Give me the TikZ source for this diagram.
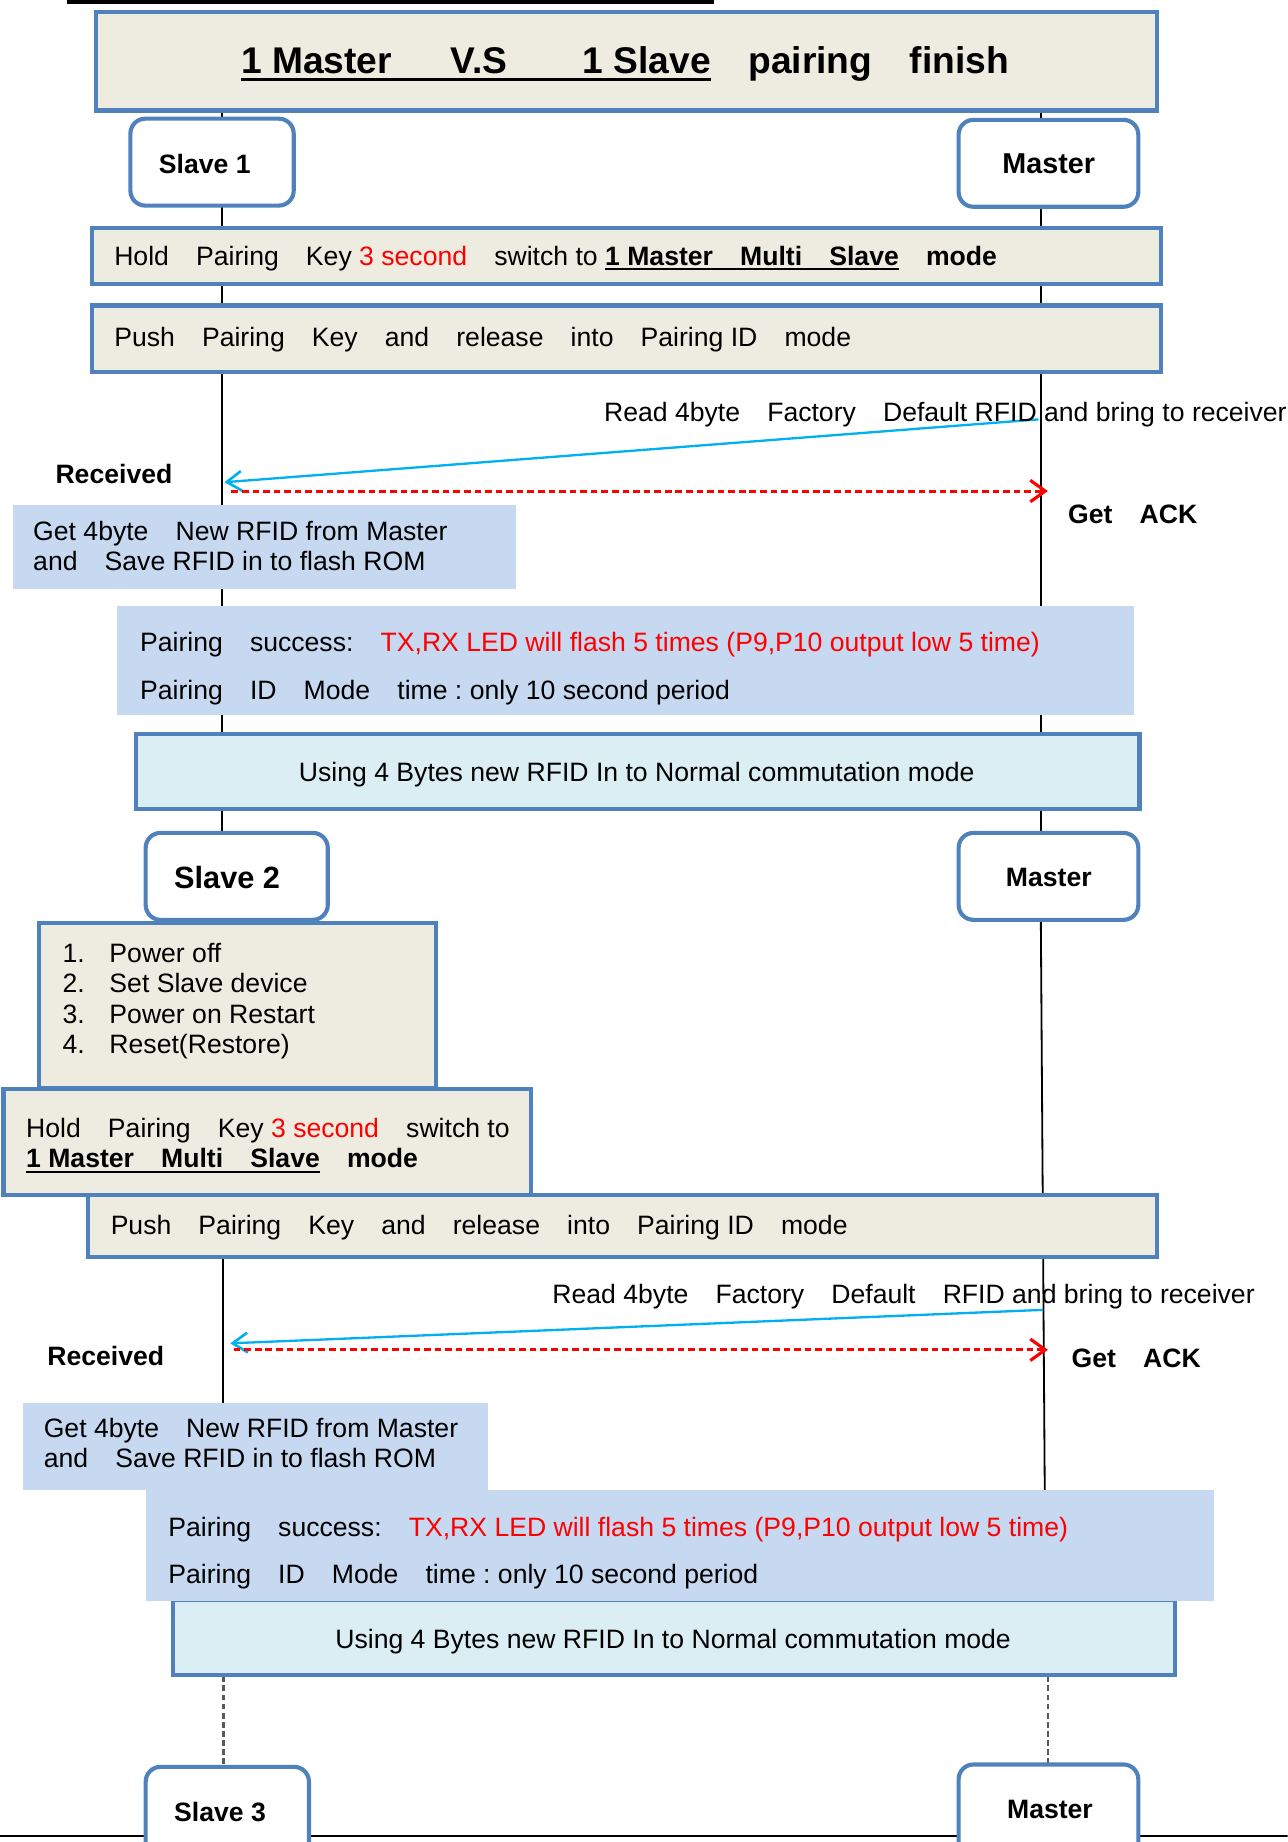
\documentclass[tikz,border=0pt]{standalone}
\usepackage{fontspec}
\setmainfont{Liberation Sans}
\usetikzlibrary{arrows.meta,fit}
\definecolor{beige}{HTML}{EEECE1}
\definecolor{bdr}{HTML}{4F81BD}
\definecolor{lblue}{HTML}{C6D9F1}
\definecolor{aqua}{HTML}{DBEEF4}
\definecolor{cyanarr}{HTML}{00B0F0}
\newcommand\gp{\hspace{1.02em}}
\newsavebox\ulbox
\newcommand\ulx[3]{\sbox\ulbox{#3}\rlap{\rule[-#1]{\wd\ulbox}{#2}}\usebox\ulbox}
\frenchspacing
\tikzset{
  box/.style={draw=bdr, line width=2.5pt, fill=beige, inner sep=0pt},
  rbox/.style={draw=bdr, line width=2.5pt, fill=white, rounded corners=9pt, inner sep=0pt},
  lbbox/.style={fill=lblue, inner sep=0pt},
  aqbox/.style={draw=bdr, line width=2.5pt, fill=aqua, inner sep=0pt},
  txt/.style={inner sep=0pt, anchor=base west, font=\fontsize{16.1}{19}\selectfont},
  btxt/.style={inner sep=0pt, anchor=base west, font=\fontsize{16.1}{19}\selectfont\bfseries},
  ctxt/.style={inner sep=0pt, anchor=base, font=\fontsize{16.1}{19}\selectfont},
  life/.style={line width=1.1pt, black},
  dlife/.style={line width=1.6pt, black!65, dash pattern=on 3.5pt off 2pt},
  rxarr/.style={cyanarr, line width=1.4pt, -{Straight Barb[length=9pt,width=12pt,line width=1.6pt]}},
  ackarr/.style={red, line width=1.8pt, dash pattern=on 4pt off 2.4pt, -{Straight Barb[length=9pt,width=13pt,line width=1.9pt]}},
}
\begin{document}
\frenchspacing
\begin{tikzpicture}[x=0.025cm, y=-0.025cm]
\clip (0,0) rectangle (1096,1568);
% decorative rules
\fill (57,0) rectangle (608,3.4);
\coordinate (bl) at (0,1563);
\coordinate (br) at (1096,1563);
\draw[line width=1.3pt] (bl) -- (br);
% lifelines
\coordinate (sA) at (189,94);
\coordinate (sB) at (189,709);
\coordinate (sC) at (190,1070);
\coordinate (sD) at (190,1194);
\coordinate (sE) at (190,1427);
\coordinate (sF) at (190,1504);
\coordinate (mA) at (886,94);
\coordinate (mB) at (886,709);
\coordinate (mC) at (886,783);
\coordinate (mD) at (890,1364);
\coordinate (mE) at (892,1427);
\coordinate (mF) at (892,1502);
\draw[life] (sA) -- (sB);
\draw[life] (sC) -- (sD);
\draw[life] (mA) -- (mB);
\draw[life] (mC) -- (mD);
\draw[dlife] (sE) -- (sF);
\draw[dlife] (mE) -- (mF);
% messages
\coordinate (b1s) at (884,357);
\coordinate (b1e) at (191,410.5);
\coordinate (r1s) at (197,418);
\coordinate (r1e) at (892,418);
\draw[rxarr] (b1s) -- (b1e);
\draw[ackarr] (r1s) -- (r1e);
\coordinate (b2s) at (888,1115);
\coordinate (b2e) at (196,1143.5);
\coordinate (r2s) at (199,1149);
\coordinate (r2e) at (892,1149);
\draw[rxarr] (b2s) -- (b2e);
\draw[ackarr] (r2s) -- (r2e);
% boxes
\node[box, fit={(82,10) (985,94)}] (ttl) {};
\node[rbox, fit={(111,101) (250,175)}] (s1) {};
\node[rbox, fit={(816,102) (969,176)}] (m1) {};
\node[box, fit={(78,194) (988,242)}] (hold1) {};
\node[box, fit={(78,260) (988,317)}] (push1) {};
\node[lbbox, fit={(11,430) (439,501)}] (get1) {};
\node[lbbox, fit={(100,516) (965,609)}] (ok1) {};
\node[aqbox, fit={(116,625) (970,689)}] (use1) {};
\node[rbox, fit={(124,709) (279,783)}] (s2) {};
\node[rbox, fit={(816,709) (969,783)}] (m2) {};
\node[box, fit={(33,786) (371,926)}] (list) {};
\node[box, fit={(3,927) (452,1017)}] (hold2) {};
\node[box, fit={(75,1017) (985,1070)}] (push2) {};
\node[lbbox, fit={(20,1194) (415,1268)}] (get2) {};
\node[aqbox, fit={(147,1362) (1000,1426)}] (use2) {};
\node[lbbox, fit={(124,1268) (1033,1363)}] (ok2) {};
\node[rbox, fit={(124,1504) (263,1590)}] (s3) {};
\node[rbox, fit={(816,1502) (969,1590)}] (m3) {};
% texts
\node[inner sep=0pt, anchor=base west, font=\fontsize{22.5}{26}\selectfont\bfseries] (ttltxt) at (205,62.5)
  {\ulx{4.8pt}{2pt}{1 Master\hspace{1.58em}V.S\hspace{2.03em}1 Slave}\hspace{1.01em}pairing\hspace{1.01em}finish};
\node[btxt] (s1t) at (135,147.6) {Slave 1};
\node[inner sep=0pt, anchor=base west, font=\fontsize{17.4}{20}\selectfont\bfseries] (m1t) at (853,147.6) {Master};
\node[txt] (h1t) at (97,226) {Hold\gp Pairing\gp Key \textcolor{red}{3 second}\gp switch to \ulx{3pt}{1.2pt}{\bfseries 1 Master\gp Multi\gp Slave}\gp\textbf{mode}};
\node[txt] (p1t) at (97,295) {Push\gp Pairing\gp Key\gp and\gp release\gp into\gp Pairing ID\gp mode};
\node[txt] (rd1) at (514,359) {Read 4byte\gp Factory\gp Default RFID and bring to receiver};
\node[btxt] (rc1) at (47,411.5) {Received};
\node[btxt] (ga1) at (909,445.7) {Get\gp ACK};
\node[txt] (g1a) at (28,460) {Get 4byte\gp New RFID from Master};
\node[txt] (g1b) at (28,485.5) {and\gp Save RFID in to flash ROM};
\node[txt] (o1a) at (119,555) {Pairing\gp success:\gp\textcolor{red}{TX,RX LED will flash 5 times (P9,P10 output low 5 time)}};
\node[txt] (o1b) at (119,595.5) {Pairing\gp ID\gp Mode\gp time : only 10 second period};
\node[ctxt] (u1t) at (542,665.6) {Using 4 Bytes new RFID In to Normal commutation mode};
\node[inner sep=0pt, anchor=base west, font=\fontsize{18.6}{22}\selectfont\bfseries] (s2t) at (148,756) {Slave 2};
\node[btxt] (m2t) at (856,754.5) {Master};
\node[txt] (l1) at (53,819) {\makebox[28.4pt][l]{1.}Power off};
\node[txt] (l2) at (53,845) {\makebox[28.4pt][l]{2.}Set Slave device};
\node[txt] (l3) at (53,871) {\makebox[28.4pt][l]{3.}Power on Restart};
\node[txt] (l4) at (53,897) {\makebox[28.4pt][l]{4.}Reset(Restore)};
\node[txt] (h2a) at (22,968) {Hold\gp Pairing\gp Key \textcolor{red}{3 second}\gp switch to};
\node[txt] (h2b) at (22,994) {\ulx{3pt}{1.2pt}{\bfseries 1 Master\gp Multi\gp Slave}\gp\textbf{mode}};
\node[txt] (p2t) at (94,1051) {Push\gp Pairing\gp Key\gp and\gp release\gp into\gp Pairing ID\gp mode};
\node[txt] (rd2) at (470,1110) {Read 4byte\gp Factory\gp Default\gp RFID and bring to receiver};
\node[btxt] (rc2) at (40,1162.5) {Received};
\node[btxt] (ga2) at (912,1164) {Get\gp ACK};
\node[txt] (g2a) at (37,1224) {Get 4byte\gp New RFID from Master};
\node[txt] (g2b) at (37,1249.5) {and\gp Save RFID in to flash ROM};
\node[txt] (o2a) at (143,1308) {Pairing\gp success:\gp\textcolor{red}{TX,RX LED will flash 5 times (P9,P10 output low 5 time)}};
\node[txt] (o2b) at (143,1348) {Pairing\gp ID\gp Mode\gp time : only 10 second period};
\node[ctxt] (u2t) at (573,1403.5) {Using 4 Bytes new RFID In to Normal commutation mode};
\node[btxt] (s3t) at (148,1550.5) {Slave 3};
\node[btxt] (m3t) at (857,1548) {Master};
\end{tikzpicture}
\end{document}
